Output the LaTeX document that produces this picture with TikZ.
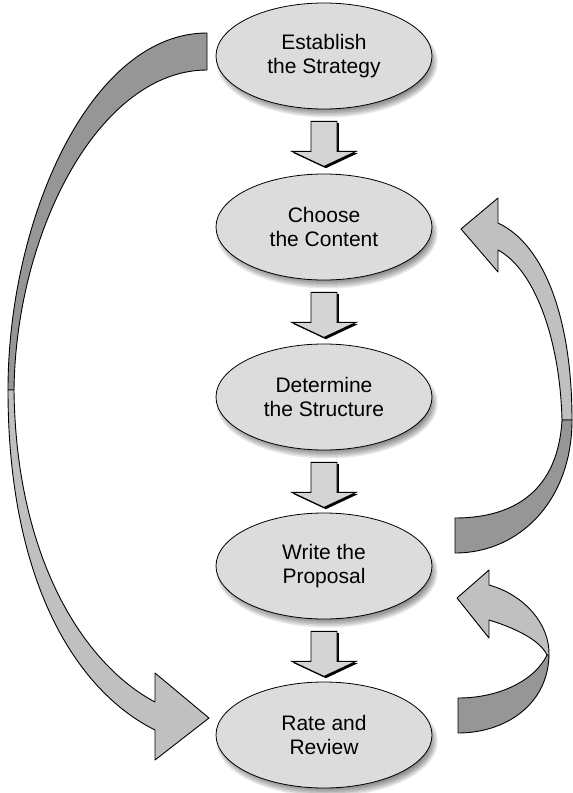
\documentclass[tikz,border=0pt]{standalone}
\usepackage{fontspec}
\setmainfont{Liberation Sans}
\usetikzlibrary{shapes.geometric,calc}
\definecolor{ellfill}{RGB}{220,220,220}
\definecolor{arrfill}{RGB}{212,212,212}
\definecolor{ribdark}{RGB}{150,150,150}
\definecolor{riblight}{RGB}{192,192,192}
\begin{document}
\begin{tikzpicture}[x=1pt,y=-1pt,
  stage/.style={ellipse, draw=black, line width=0.8pt, fill=ellfill,
    minimum width=216pt, minimum height=106pt, inner sep=0pt, align=center,
    font=\fontsize{21}{24}\selectfont},
  ribbon/.style={draw=black, line width=0.9pt, line join=round},
  downarr/.pic={
    \begin{scope}[shift={(1.8,1.8)}]
      \fill[black] (-13,0) -- (13,0) -- (13,30) -- (32,30) -- (0,45) -- (-32,30) -- (-13,30) -- cycle;
    \end{scope}
    \draw[fill=arrfill, line width=0.9pt, line join=miter]
      (-13,0) -- (13,0) -- (13,30) -- (32,30) -- (0,45) -- (-32,30) -- (-13,30) -- cycle;
  }
]
\useasboundingbox (0,0) rectangle (573,793);
\fill[white] (0,0) rectangle (573,793);

% soft shadows under the ellipses
\foreach \cy in {56,227,397,566,735}{
  \foreach \k in {0,...,7}{
    \fill[black, opacity=0.085] (327,\cy+6) ellipse [x radius=101+\k*1.4, y radius=45+\k*1.5];
  }
}

\node[stage] (e1) at (324,56)  {Establish\\the Strategy};
\node[stage] (e2) at (324,227) {Choose\\the Content};
\node[stage] (e3) at (324,397) {Determine\\the Structure};
\node[stage] (e4) at (324,566) {Write the\\Proposal};
\node[stage] (e5) at (324,735) {Rate and\\Review};

\pic at ([yshift=-12pt]e1.south) {downarr};
\pic at ([yshift=-12pt]e2.south) {downarr};
\pic at ([yshift=-12pt]e3.south) {downarr};
\pic at ([yshift=-12pt]e4.south) {downarr};

% left ribbon arrow: Establish the Strategy -> Rate and Review
\coordinate (Ltip) at (209,718);
\draw[ribbon, fill=ribdark] (207,33) -- (207,70) .. controls (100,70) and (16,230) .. (14,390)
  -- (8,390) .. controls (8,220) and (90,33) .. (207,33) -- cycle;
\draw[ribbon, fill=riblight] (8,390) .. controls (8,580) and (75,690) .. (155,730)
  -- (155,760) -- (Ltip) -- (155,673) -- (155,702)
  .. controls (85,665) and (16,560) .. (14,390) -- cycle;

% right upper ribbon arrow: Write the Proposal -> Choose the Content
\coordinate (R1tip) at (461,229);
\draw[ribbon, fill=riblight] (498,223) .. controls (545,245) and (572,320) .. (572,420)
  -- (562,420) .. controls (560,340) and (535,270) .. (498,250)
  -- (498,272) -- (R1tip) -- (498,198) -- cycle;
\draw[ribbon, fill=ribdark] (572,420) .. controls (572,500) and (520,553) .. (455,553)
  -- (455,518) .. controls (515,518) and (558,490) .. (562,420) -- cycle;

% right lower ribbon arrow: Rate and Review -> Write the Proposal
\coordinate (R2tip) at (457,598);
\draw[ribbon, fill=riblight] (489,585) .. controls (525,595) and (550,625) .. (549,655)
  -- (547,655) .. controls (540,640) and (515,628) .. (489,620)
  -- (489,638) -- (R2tip) -- (489,570) -- cycle;
\draw[ribbon, fill=ribdark] (549,655) .. controls (548,705) and (505,733) .. (458,733)
  -- (458,698) .. controls (500,698) and (535,680) .. (547,655) -- cycle;
\end{tikzpicture}
\end{document}
